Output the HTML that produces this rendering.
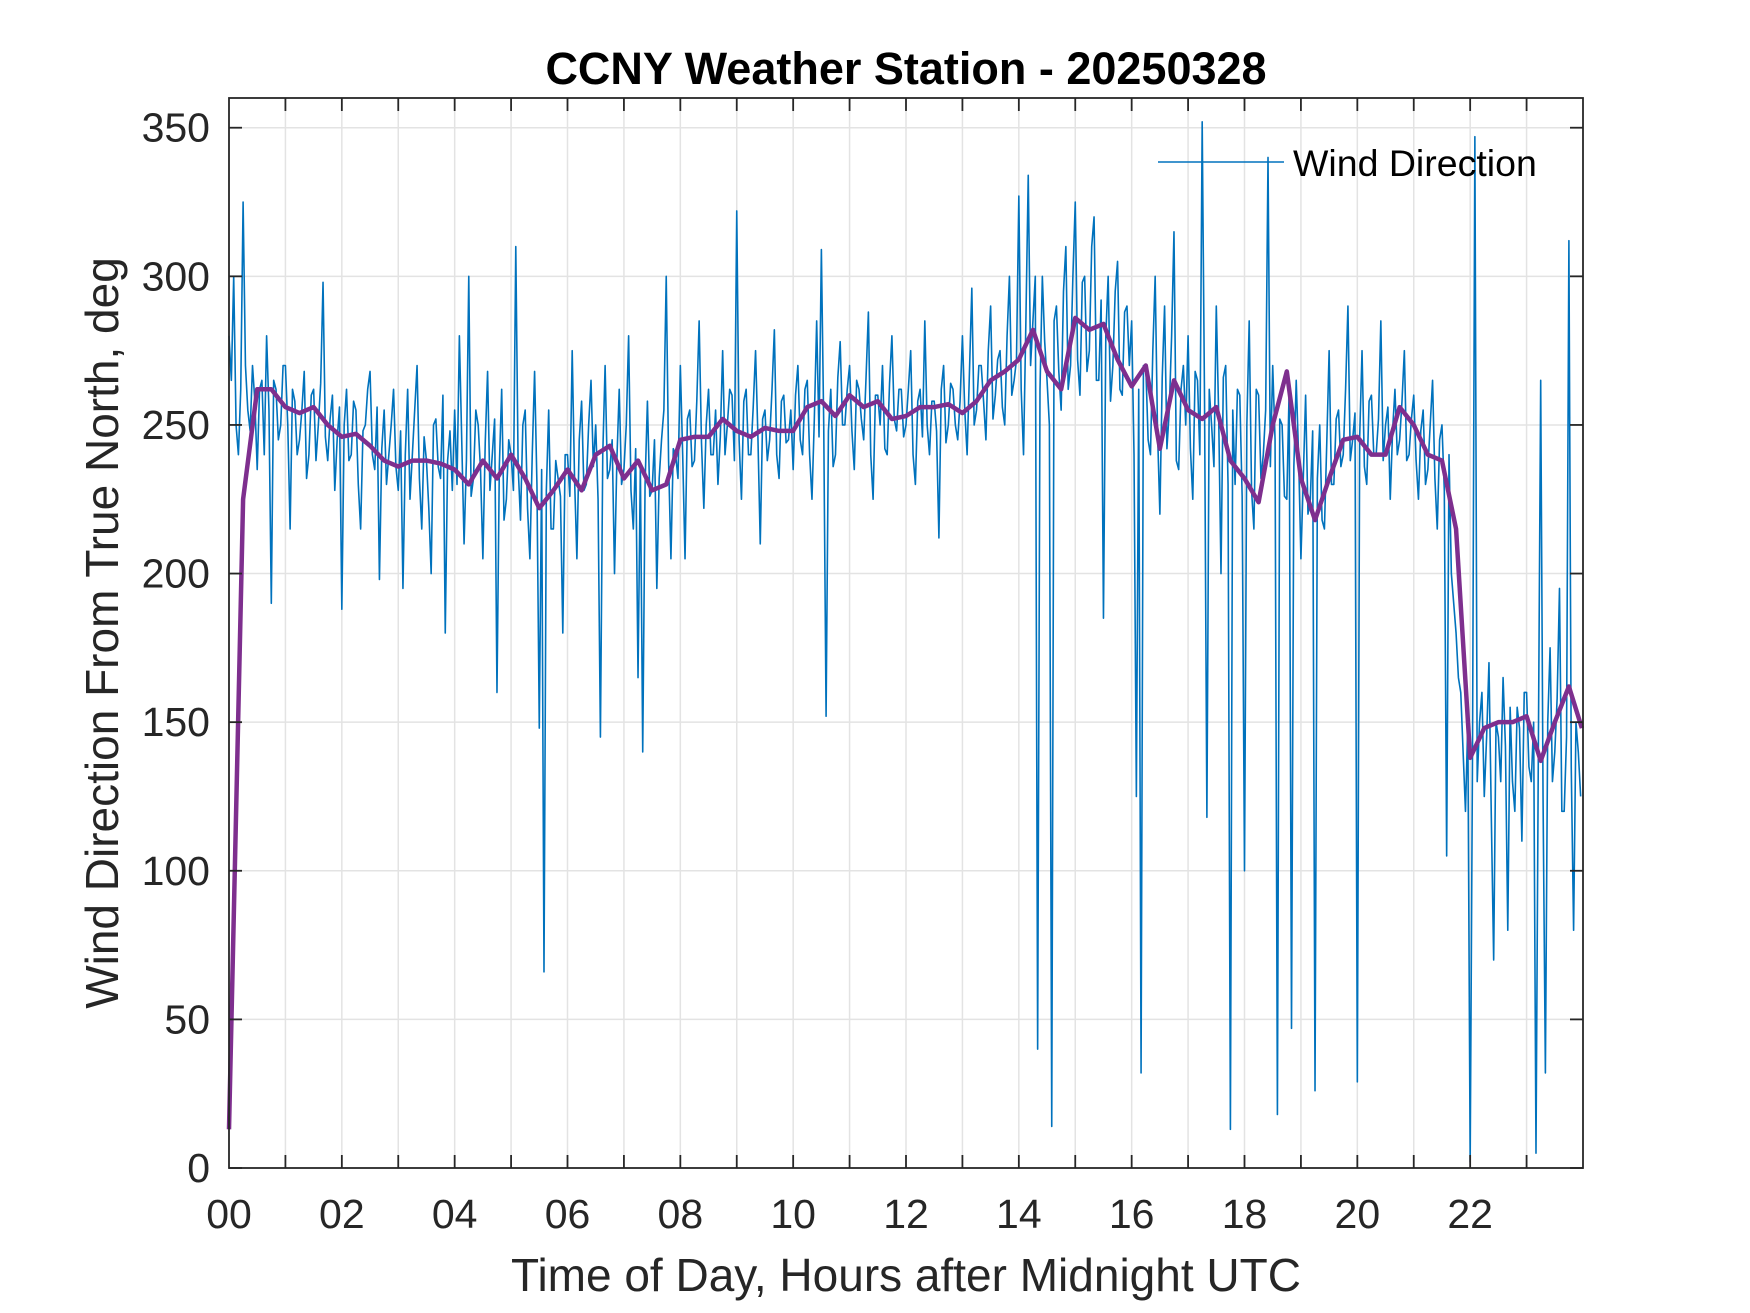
<!DOCTYPE html>
<html><head><meta charset="utf-8"><style>
html,body{margin:0;padding:0;background:#fff;}
svg{display:block;font-family:"Liberation Sans",Arial,sans-serif;}
</style></head><body>
<svg id="chart" width="1750" height="1313" viewBox="0 0 1750 1313" xmlns="http://www.w3.org/2000/svg">
<rect width="1750" height="1313" fill="#fff"/>
<g id="grid"></g>
<g id="series"></g>
<g id="axes"></g>
<text x="906" y="84" text-anchor="middle" font-size="45" font-weight="bold" fill="#000">CCNY Weather Station - 20250328</text>
<text x="906" y="1291" text-anchor="middle" font-size="46" fill="#262626">Time of Day, Hours after Midnight UTC</text>
<text transform="translate(118,633) rotate(-90)" text-anchor="middle" font-size="46" fill="#262626">Wind Direction From True North, deg</text>
<g>
<line x1="1158" y1="162" x2="1284" y2="162" stroke="#0072BD" stroke-width="1.5"/>
<text x="1293" y="176" font-size="37.5" fill="#000">Wind Direction</text>
</g>
</svg>
<script>
const xTickValues = [0,2,4,6,8,10,12,14,16,18,20,22];
const xTickLabels = ["00","02","04","06","08","10","12","14","16","18","20","22"];
const yTickValues = [0,50,100,150,200,250,300,350];
const yTickLabels = ["0","50","100","150","200","250","300","350"];
const windDirection = [
280,265,300,250,240,262,325,270,255,248,270,258,235,262,265,240,280,255,190,265,262,245,250,270,
270,250,215,262,258,240,245,255,268,232,240,260,262,238,250,264,298,246,238,252,260,228,245,256,
188,250,262,238,240,258,255,230,215,248,250,262,268,240,235,256,198,242,255,230,240,250,262,236,
228,248,195,240,262,225,240,255,270,232,215,246,238,222,200,250,252,236,232,260,180,238,248,228,
255,230,280,245,210,238,300,226,232,255,250,235,205,244,268,228,240,252,160,236,262,218,225,245,
240,228,310,236,218,250,255,222,205,240,268,230,148,235,66,228,255,215,215,238,232,226,180,240,
240,226,275,232,205,245,258,228,230,250,265,236,250,225,145,240,270,232,235,245,200,238,262,230,
235,250,280,228,215,242,165,236,140,230,258,226,228,245,195,232,245,255,300,238,205,242,240,232,
270,240,205,252,255,236,238,258,285,244,222,250,262,240,240,255,230,246,275,240,250,262,260,238,
322,245,225,258,262,240,240,256,275,246,210,252,255,238,245,262,282,240,232,258,260,244,245,255,
235,260,270,245,240,262,265,240,225,252,285,246,309,250,152,248,262,236,240,266,278,250,250,262,
270,248,235,265,262,252,245,266,288,240,225,260,260,250,270,242,240,264,280,252,248,262,262,246,
250,262,275,240,230,258,262,246,285,250,240,258,258,248,212,262,270,244,250,264,262,250,245,258,
280,255,240,268,296,250,255,270,270,258,245,275,290,252,260,272,275,256,250,280,300,260,265,272,
327,262,240,285,334,270,285,300,40,262,300,278,265,250,14,285,290,268,255,295,310,262,270,300,
325,272,260,298,300,268,275,310,320,265,265,292,185,280,300,258,270,295,305,262,260,288,290,270,
285,240,125,262,32,270,270,245,240,275,300,248,220,266,290,242,255,280,315,238,235,262,270,250,
280,242,225,268,265,240,352,258,118,262,250,236,290,254,200,266,270,230,13,255,230,262,260,226,
100,250,285,228,215,262,260,232,240,255,340,236,270,245,18,252,250,226,225,262,47,236,265,240,
205,232,260,220,225,248,26,232,250,218,215,244,275,230,230,252,255,236,240,262,290,238,245,254,
29,246,275,236,230,258,260,240,240,252,285,238,250,256,225,248,262,240,245,258,275,238,240,252,
260,238,225,248,255,230,235,250,265,232,215,245,250,228,105,240,200,190,180,165,160,140,120,150,
2,140,347,130,150,160,125,145,170,118,70,150,145,130,165,142,80,155,130,120,155,148,110,160,
160,135,130,150,5,140,265,125,32,150,175,130,140,158,195,120,120,145,312,135,80,150,140,125
];
const windStepHours = 1/24;
const smoothedDirection = [
13,225,262,262,256,254,256,250,246,247,243,238,236,238,238,237,
235,230,238,232,240,232,222,228,235,228,240,243,232,238,228,230,
245,246,246,252,248,246,249,248,248,256,258,253,260,256,258,252,
253,256,256,257,254,258,265,268,272,282,268,262,286,282,284,272,
263,270,242,265,255,252,256,238,232,224,250,268,232,218,232,245,
246,240,240,256,250,240,238,215,138,148,150,150,152,137,150,162,148
];
const smoothStepHours = 0.25;

const L=229,R=1583,T=98,B=1168,XMAX=24,YMAX=360;
const xs=v=>L+(v/XMAX)*(R-L);
const ys=v=>B-(v/YMAX)*(B-T);
const NS='http://www.w3.org/2000/svg';
function mk(tag,attrs,parent){const e=document.createElementNS(NS,tag);for(const k in attrs)e.setAttribute(k,attrs[k]);parent.appendChild(e);return e;}
const grid=document.getElementById('grid'),axes=document.getElementById('axes'),series=document.getElementById('series');
for(let h=1;h<24;h++){
  const g=mk('line',{x1:xs(h),x2:xs(h),y1:T,y2:B,stroke:'#e3e3e3','stroke-width':1.5},grid);
  
  
}
yTickValues.forEach(v=>{
  if(v===0)return;
  const g=mk('line',{x1:L,x2:R,y1:ys(v),y2:ys(v),stroke:'#e3e3e3','stroke-width':1.5},grid);
  
  
});
let d='';
windDirection.forEach((v,i)=>{d+=(i?'L':'M')+xs(i*windStepHours).toFixed(2)+' '+ys(v).toFixed(2);});
const wl=mk('path',{d:d,fill:'none',stroke:'#0072BD','stroke-width':1.6,'stroke-linejoin':'round'},series);


let d2='';
smoothedDirection.forEach((v,i)=>{d2+=(i?'L':'M')+xs(Math.min(i*smoothStepHours,23.98)).toFixed(2)+' '+ys(v).toFixed(2);});
const sl=mk('path',{d:d2,fill:'none',stroke:'#7E2F8E','stroke-width':4.5,'stroke-linejoin':'round'},series);


const box=mk('rect',{x:L,y:T,width:R-L,height:B-T,fill:'none',stroke:'#262626','stroke-width':1.8},axes);


for(let h=1;h<24;h++){
  const t1=mk('line',{x1:xs(h),x2:xs(h),y1:B,y2:B-13,stroke:'#262626','stroke-width':1.8},axes);
  
  
  const t2=mk('line',{x1:xs(h),x2:xs(h),y1:T,y2:T+13,stroke:'#262626','stroke-width':1.8},axes);
  
  
}
xTickValues.forEach((v,i)=>{
  const t=mk('text',{x:xs(v),y:1228,'text-anchor':'middle','font-size':41,fill:'#262626'},axes);
  t.textContent=xTickLabels[i];
  
  
});
yTickValues.forEach((v,i)=>{
  const a=mk('line',{x1:L,x2:L+13,y1:ys(v),y2:ys(v),stroke:'#262626','stroke-width':1.8},axes);
  
  
  const b=mk('line',{x1:R,x2:R-13,y1:ys(v),y2:ys(v),stroke:'#262626','stroke-width':1.8},axes);
  
  
  const t=mk('text',{x:210,y:ys(v)+14,'text-anchor':'end','font-size':41,fill:'#262626'},axes);
  t.textContent=yTickLabels[i];
  
  
});
</script>
</body></html>
